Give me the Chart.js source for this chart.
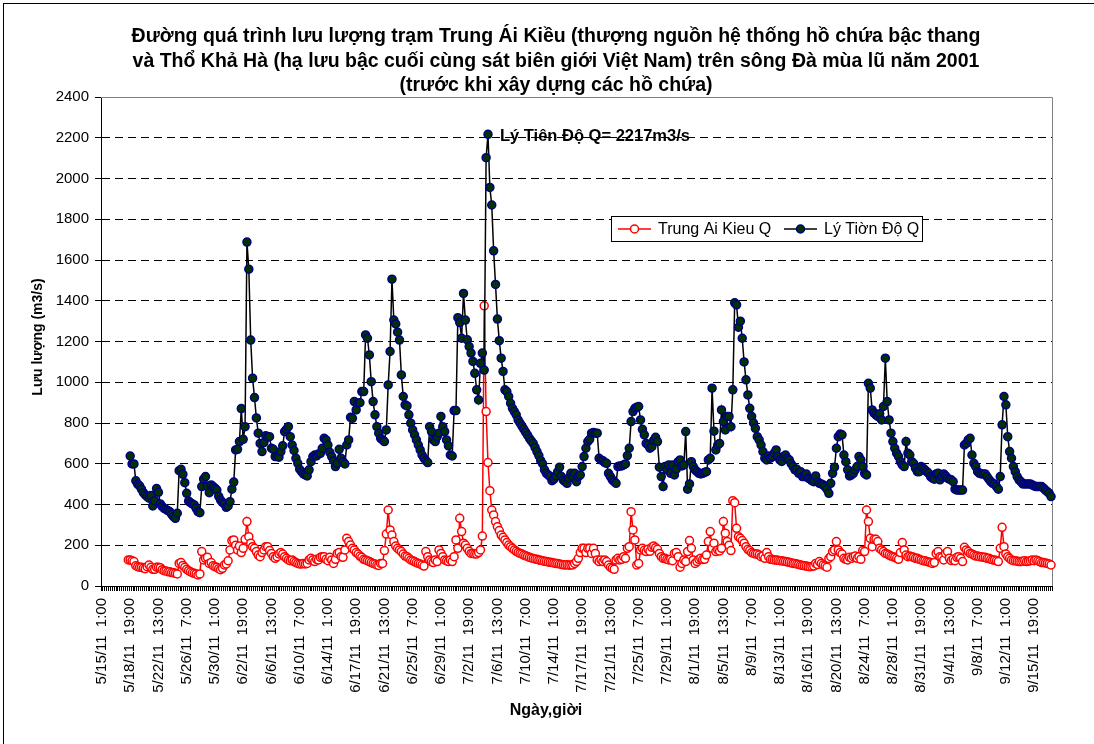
<!DOCTYPE html>
<html lang="vi">
<head>
    <meta charset="UTF-8">
    <meta name="viewport" content="width=device-width, initial-scale=1.0">
    <title>Lưu lượng sông Đà mùa lũ 2001</title>
    <style>
        html, body {
            margin: 0;
            padding: 0;
            background: #fff;
        }

        #chartBlock {
            width: 1094px;
            height: 744px;
            position: relative;
        }
    </style>
</head>

<body>
    <div id="chartBlock">
        <canvas id="flowChart"></canvas>
    </div>

<script src="https://cdn.jsdelivr.net/npm/chart.js@4.4.0/dist/chart.umd.min.js"></script>
<script>
    // thời gian: mỗi 6 giờ một số liệu, bắt đầu 5/15/11 1:00
    const startTime = Date.UTC(2011, 4, 15, 1);
    const stepHours = 6;
    const pointCount = 505;
    const labelEvery = 15;

    const titleLines = [
        'Đường quá trình lưu lượng trạm Trung Ái Kiều (thượng nguồn hệ thống hồ chứa bậc thang',
        'và Thổ Khả Hà (hạ lưu bậc cuối cùng sát biên giới Việt Nam) trên sông Đà mùa lũ năm 2001',
        '(trước khi xây dựng các hồ chứa)'
    ];
    const yTitle = 'Lưu lượng (m3/s)';
    const xTitle = 'Ngày,giời';
    const seriesNames = ['Trung Ai Kieu Q', 'Lý Tiờn Độ Q'];
    const peakName = 'Lý Tiên Độ Q= ';

    const yMin = 0;
    const yMax = 2400;
    const yStep = 200;

    // Trung Ái Kiều, bắt đầu từ số liệu thứ 14
    const trungAiKieuStart = 14;
    const trungAiKieuQ = [
        128,128,124,120,100,95,92,92,88,85,
        95,103,92,82,82,92,92,90,80,75,
        74,70,70,66,65,62,59,111,115,101,
        92,82,75,70,65,62,59,54,59,169,
        128,136,141,111,115,100,95,92,85,80,
        87,103,108,124,177,223,226,200,177,196,
        164,185,229,316,242,210,193,185,169,152,
        144,164,177,193,193,174,160,144,136,144,
        157,164,157,144,136,128,124,128,120,115,
        111,108,108,111,108,111,128,136,128,120,
        131,128,141,144,144,131,124,141,128,111,
        131,160,164,144,141,177,234,218,201,185,
        177,164,157,147,141,131,128,124,120,115,
        111,108,103,101,111,111,174,255,373,275,
        250,218,196,185,177,169,157,147,144,136,
        128,124,120,115,111,108,103,98,169,144,
        128,120,115,128,120,177,160,144,128,124,
        120,128,120,144,226,185,332,267,210,201,
        185,170,160,160,157,157,164,177,245,1375,
        856,606,468,373,349,316,291,272,250,239,
        226,213,201,193,185,177,170,165,160,157,
        152,148,145,141,138,135,133,131,128,126,
        124,122,120,118,116,115,113,111,110,108,
        106,104,103,104,102,103,103,111,120,136,
        164,185,185,164,185,185,160,185,160,128,
        120,128,120,128,120,103,92,87,82,128,
        136,128,131,144,136,185,193,365,275,226,
        103,111,177,185,175,169,180,170,190,196,
        188,180,160,144,136,136,131,128,131,124,
        160,164,144,92,111,128,120,169,223,185,
        128,111,120,131,136,130,131,152,218,267,
        185,210,169,177,172,185,316,259,218,200,
        174,419,409,283,242,234,223,210,193,180,
        174,164,160,157,157,152,144,147,136,164,
        144,131,130,128,128,126,124,124,122,120,
        118,116,114,111,110,108,106,103,101,100,
        98,96,95,96,98,111,105,120,110,103,
        98,92,135,144,169,177,218,177,164,157,
        136,131,128,141,136,144,147,136,144,131,
        174,169,373,316,234,193,229,229,218,185,
        177,169,160,157,152,147,144,141,136,131,
        164,213,177,152,144,147,144,141,136,136,
        131,128,124,124,120,118,115,111,115,160,
        169,144,140,128,160,169,136,125,131,124,
        141,144,136,120,190,177,169,160,157,152,
        147,147,144,144,141,141,136,136,131,128,
        128,124,120,185,288,193,157,144,136,128,
        124,124,122,120,120,122,124,120,122,124,
        128,124,128,124,120,115,115,113,111,108,
        103
    ];

    // Lý Tiên Độ, bắt đầu từ số liệu thứ 15
    const lyTienDoStart = 15;
    const lyTienDoQ = [
        638,599,599,516,500,491,475,458,447,439,
        431,444,393,419,478,460,403,390,381,376,
        370,365,352,340,332,357,566,573,548,507,
        455,417,409,403,398,381,365,360,488,525,
        537,488,458,496,488,480,471,440,422,410,
        403,386,393,414,475,510,668,671,709,871,
        720,782,1688,1555,1207,1020,925,825,750,700,
        660,704,737,730,733,676,671,635,635,632,
        660,688,758,769,782,733,692,665,627,602,
        573,561,550,545,540,570,610,635,643,638,
        648,651,676,725,717,692,656,635,615,586,
        602,671,627,610,599,692,717,828,823,905,
        864,897,900,954,954,1232,1216,1134,1003,905,
        840,782,750,725,717,709,766,987,1151,1506,
        1305,1286,1246,1207,1036,930,889,884,840,799,
        766,742,717,692,668,643,627,615,606,782,
        758,717,709,733,750,832,782,758,717,688,
        643,638,861,861,1317,1293,1216,1436,1305,1208,
        1175,1143,1102,1044,963,913,1093,1143,1060,2102,
        2217,1956,1870,1645,1480,1310,1204,1118,1053,963,
        954,930,897,872,856,840,815,800,785,770,
        755,740,725,712,700,680,660,640,615,600,
        570,553,545,537,517,525,540,560,583,537,
        520,512,504,529,553,537,553,512,537,545,
        586,635,676,709,720,750,753,750,750,627,
        619,615,606,602,553,537,521,512,504,586,
        589,589,594,599,640,676,807,856,872,877,
        881,815,769,742,700,692,676,684,715,730,
        709,583,537,488,586,570,594,553,594,545,
        573,610,619,589,594,758,475,501,610,586,
        570,561,553,550,553,557,561,619,627,971,
        760,668,692,700,864,807,766,832,832,782,
        963,1390,1380,1270,1300,1216,1100,1012,938,872,
        832,800,774,733,717,692,660,627,619,638,
        627,635,652,668,635,619,611,635,643,627,
        619,600,586,570,573,553,561,537,537,550,
        530,524,517,512,540,512,504,501,496,488,
        475,455,504,553,583,676,733,746,742,643,
        610,570,540,545,553,570,586,635,619,586,
        553,545,995,971,864,848,840,832,845,815,
        881,1118,905,815,750,709,676,652,635,610,
        594,586,709,652,643,610,602,578,561,561,
        586,578,570,561,553,537,529,524,550,553,
        521,537,550,540,529,524,521,512,475,471,
        471,471,471,692,700,717,725,643,602,586,
        561,553,550,550,550,537,524,512,504,501,
        488,475,537,791,930,889,733,660,627,586,
        561,537,521,512,501,501,501,501,501,496,
        491,488,488,488,488,480,471,463,455,439
    ];

    const fontFamily = 'Arial, "Liberation Sans", sans-serif';

    function makeTimeLabels() {
        let labels = [];
        for (let i = 0; i < pointCount; i++) {
            let d = new Date(startTime + i * stepHours * 3600000);
            labels.push((d.getUTCMonth() + 1) + '/' + d.getUTCDate() + '/11  ' + d.getUTCHours() + ':00');
        }
        return labels;
    }

    function padSeries(start, values) {
        let data = [];
        for (let i = 0; i < start; i++) data.push(null);
        return data.concat(values);
    }

    const timeLabels = makeTimeLabels();

    const redStyle = {
        borderColor: '#ff0000',
        pointBackgroundColor: '#ffffff',
        pointBorderColor: '#ff0000'
    };
    const darkStyle = {
        borderColor: '#000000',
        pointBackgroundColor: '#003300',
        pointBorderColor: '#000080'
    };

    // khung viền, tiêu đề, chú thích và ghi chú đỉnh lũ
    const chartDecor = {
        id: 'chartDecor',
        beforeDatasetsDraw(chart) {
            const ctx = chart.ctx;
            const a = chart.chartArea;
            ctx.save();
            ctx.strokeStyle = '#808080';
            ctx.lineWidth = 1;
            ctx.beginPath();
            ctx.moveTo(a.left, Math.round(a.top) + 0.5);
            ctx.lineTo(Math.round(a.right) + 0.5, Math.round(a.top) + 0.5);
            ctx.lineTo(Math.round(a.right) + 0.5, a.bottom);
            ctx.stroke();
            ctx.restore();
        },
        afterDraw(chart) {
            const ctx = chart.ctx;
            ctx.save();

            // viền ngoài
            ctx.strokeStyle = '#000';
            ctx.lineWidth = 1;
            ctx.strokeRect(3.5, 3.5, 1200, 1200);

            ctx.fillStyle = '#000';
            ctx.textAlign = 'center';
            ctx.textBaseline = 'middle';
            ctx.font = 'bold 19.5px ' + fontFamily;
            titleLines.forEach((line, k) => {
                ctx.fillText(line, 556, 37 + k * 24.5);
            });

            ctx.font = 'bold 16px ' + fontFamily;
            ctx.fillText(xTitle, 546, 711);

            ctx.save();
            ctx.translate(38, 337);
            ctx.rotate(-Math.PI / 2);
            ctx.font = 'bold 14px ' + fontFamily;
            ctx.fillText(yTitle, 0, 0);
            ctx.restore();

            // ghi chú đỉnh lũ Lý Tiên Độ
            let peak = Math.max(...lyTienDoQ);
            let peakIndex = lyTienDoStart + lyTienDoQ.indexOf(peak);
            let px = chart.scales.x.getPixelForValue(peakIndex);
            let py = chart.scales.y.getPixelForValue(peak);
            ctx.textAlign = 'left';
            ctx.font = 'bold 16.5px ' + fontFamily;
            ctx.fillText(peakName + peak + 'm3/s', px + 12, py + 2);

            // chú thích
            let lx = 611, ly = 216, lw = 311, lh = 25;
            ctx.fillStyle = '#fff';
            ctx.fillRect(lx, ly, lw, lh);
            ctx.strokeStyle = '#000';
            ctx.strokeRect(lx + 0.5, ly + 0.5, lw, lh);

            let items = [
                {style: redStyle, x: 618, name: seriesNames[0]},
                {style: darkStyle, x: 784, name: seriesNames[1]}
            ];
            let cy = ly + lh / 2 + 0.5;
            items.forEach((it) => {
                ctx.strokeStyle = it.style.borderColor;
                ctx.lineWidth = 1.5;
                ctx.beginPath();
                ctx.moveTo(it.x, cy);
                ctx.lineTo(it.x + 33, cy);
                ctx.stroke();
                ctx.beginPath();
                ctx.arc(it.x + 16.5, cy, 4, 0, Math.PI * 2);
                ctx.fillStyle = it.style.pointBackgroundColor;
                ctx.fill();
                ctx.strokeStyle = it.style.pointBorderColor;
                ctx.stroke();
                ctx.fillStyle = '#000';
                ctx.font = '16px ' + fontFamily;
                ctx.textAlign = 'left';
                ctx.fillText(it.name, it.x + 40, cy + 1);
            });

            ctx.restore();
        }
    };

    function createChart() {
        let ctx = document.getElementById('flowChart').getContext('2d');

        let firstData = {
            label: seriesNames[0],
            data: padSeries(trungAiKieuStart, trungAiKieuQ),
            borderColor: redStyle.borderColor,
            pointBackgroundColor: redStyle.pointBackgroundColor,
            pointBorderColor: redStyle.pointBorderColor,
            borderWidth: 1.5,
            pointRadius: 4,
            pointBorderWidth: 1.5,
            fill: false,
            tension: 0,
            order: 1
        };

        let secondData = {
            label: seriesNames[1],
            data: padSeries(lyTienDoStart, lyTienDoQ),
            borderColor: darkStyle.borderColor,
            pointBackgroundColor: darkStyle.pointBackgroundColor,
            pointBorderColor: darkStyle.pointBorderColor,
            borderWidth: 1.5,
            pointRadius: 4,
            pointBorderWidth: 1.5,
            fill: false,
            tension: 0,
            order: 0
        };

        new Chart(ctx, {
            type: 'line',
            data: {
                labels: timeLabels,
                datasets: [firstData, secondData]
            },
            options: {
                responsive: true,
                maintainAspectRatio: false,
                animation: false,
                devicePixelRatio: 1,
                events: [],
                layout: {
                    padding: {top: 97, right: 42, bottom: 0, left: 0}
                },
                plugins: {
                    legend: {display: false},
                    title: {display: false},
                    tooltip: {enabled: false}
                },
                scales: {
                    x: {
                        type: 'category',
                        offset: true,
                        grid: {
                            offset: true,
                            drawOnChartArea: false,
                            drawTicks: true,
                            tickLength: 5,
                            color: '#000'
                        },
                        border: {color: '#000', width: 1},
                        ticks: {
                            autoSkip: false,
                            minRotation: 90,
                            maxRotation: 90,
                            padding: 7,
                            color: '#000',
                            font: {family: fontFamily, size: 15},
                            callback: function (value, index) {
                                return index % labelEvery === 0 ? timeLabels[index] : '';
                            }
                        },
                        afterFit: function (scale) {
                            scale.height = 158;
                        }
                    },
                    y: {
                        min: yMin,
                        max: yMax,
                        grid: {
                            color: '#000',
                            tickLength: 6
                        },
                        border: {color: '#000', width: 1, dash: [8, 5]},
                        ticks: {
                            stepSize: yStep,
                            padding: 6,
                            color: '#000',
                            font: {family: fontFamily, size: 15},
                            callback: function (value) {
                                return String(value);
                            }
                        },
                        afterFit: function (scale) {
                            scale.width = 101;
                        }
                    }
                }
            },
            plugins: [chartDecor]
        });
    }

    window.onload = function () {
        createChart();
    };
</script>
</body>
</html>
